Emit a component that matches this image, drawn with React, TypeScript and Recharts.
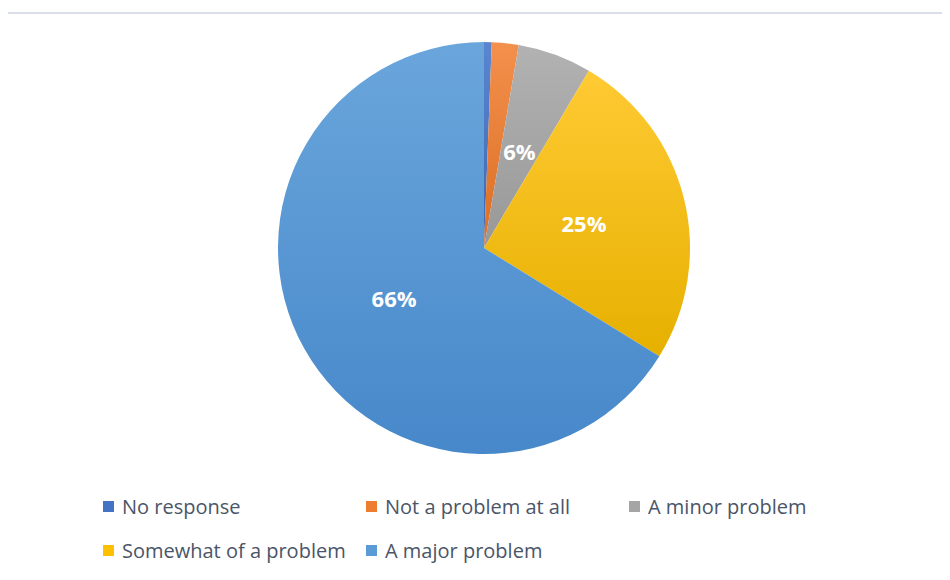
import React from "react";
import { PieChart, Pie, Cell, Legend } from "recharts";

const categories = [
  "No response",
  "Not a problem at all",
  "A minor problem",
  "Somewhat of a problem",
  "A major problem",
];
const shares = [0.6, 2.1, 5.8, 25.3, 66.2];

// flat colours for the legend, light/dark pairs for the slice gradients
const COLORS = ["#4472C4", "#ED7D31", "#A5A5A5", "#FFC000", "#5B9BD5"];
const TOPS = ["#5A86D0", "#F3904C", "#B2B2B2", "#FFCA33", "#6AA6DC"];
const BOTTOMS = ["#3D66B4", "#DA6E24", "#989898", "#E6B000", "#4788CA"];

const data = categories.map((name, i) => ({ name, value: shares[i] }));

const RAD = Math.PI / 180;

function renderLabel(props: any) {
  const { cx, cy, midAngle, outerRadius, percent } = props;
  if (percent < 0.03) return null;
  const r = outerRadius * 0.5;
  const x = cx + r * Math.cos(-midAngle * RAD);
  const y = cy + r * Math.sin(-midAngle * RAD);
  return (
    <text
      x={x}
      y={y}
      fill="#ffffff"
      textAnchor="middle"
      dominantBaseline="central"
      style={{ fontFamily: "'Open Sans', sans-serif", fontWeight: 700, fontSize: 22 }}
    >
      {`${Math.round(percent * 100)}%`}
    </text>
  );
}

// legend keeps the series order instead of the sorted payload
function LegendBox() {
  return (
    <div
      style={{
        display: "flex",
        flexWrap: "wrap",
        width: 800,
        fontFamily: "'Open Sans', sans-serif",
        fontSize: 20,
        color: "#4a5568",
      }}
    >
      {categories.map((name, i) => (
        <div
          key={name}
          style={{ width: 263, height: 44, display: "flex", alignItems: "center" }}
        >
          <span
            style={{
              display: "inline-block",
              width: 11,
              height: 11,
              background: COLORS[i],
              marginRight: 8,
            }}
          />
          <span>{name}</span>
        </div>
      ))}
    </div>
  );
}

export default function App() {
  return (
    <div
      style={{
        position: "relative",
        width: 944,
        height: 568,
        marginLeft: -2,
        marginTop: 4,
        borderLeft: "2px solid #d9dee8",
        borderTop: "2px solid #d9dee8",
        overflow: "hidden",
      }}
    >
      {/* chart coordinates are shifted so the pie sits in page space */}
      <PieChart width={950} height={580} style={{ position: "absolute", left: -8, top: -14 }}>
        <defs>
          {COLORS.map((_, i) => (
            <linearGradient key={i} id={`slice${i}`} x1="0" y1="0" x2="0" y2="1">
              <stop offset="0%" stopColor={TOPS[i]} />
              <stop offset="100%" stopColor={BOTTOMS[i]} />
            </linearGradient>
          ))}
        </defs>
        <Pie
          data={data}
          dataKey="value"
          nameKey="name"
          cx={479}
          cy={243}
          outerRadius={206}
          startAngle={90}
          endAngle={-270}
          stroke="none"
          label={renderLabel}
          labelLine={false}
          isAnimationActive={false}
        >
          {data.map((_, i) => (
            <Cell key={i} fill={`url(#slice${i})`} />
          ))}
        </Pie>
        <Legend
          content={<LegendBox />}
          wrapperStyle={{ position: "absolute", left: 103, top: 484, width: 800 }}
        />
      </PieChart>
    </div>
  );
}
